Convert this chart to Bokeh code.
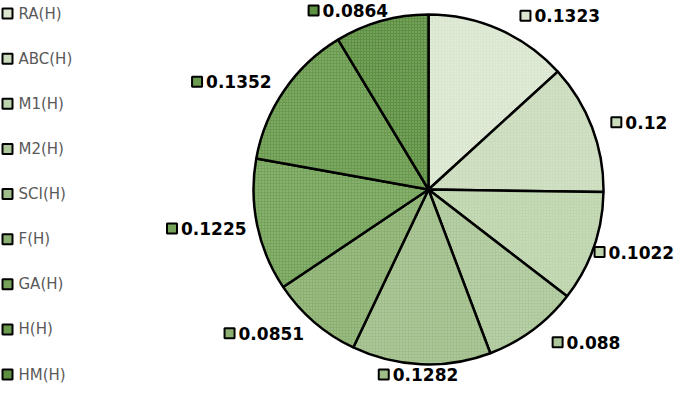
import numpy as np
from bokeh.plotting import figure
from bokeh.models import Range1d, ColumnDataSource
from bokeh.core.properties import value
from bokeh.embed import file_html
from bokeh.resources import INLINE

categories = ["RA(H)", "ABC(H)", "M1(H)", "M2(H)", "SCI(H)", "F(H)", "GA(H)", "H(H)", "HM(H)"]
values = [0.1323, 0.12, 0.1022, 0.088, 0.1282, 0.0851, 0.1225, 0.1352, 0.0864]
labels = ["0.1323", "0.12", "0.1022", "0.088", "0.1282", "0.0851", "0.1225", "0.1352", "0.0864"]
colors = ["#dae6d0", "#cbdcbd", "#bdd4ad", "#acc799", "#9fbe89", "#8bb071", "#75a35a", "#6a9a4d", "#5e9042"]
# horizontal nudges (px) for data-label placement, as laid out in the original
label_dx = [41, 0, -7, 24, 0, -16, 0, -10, -19]

W, H = 683, 384
TOP = 400  # data y = TOP - picture y
p = figure(width=W, height=H, output_backend="svg", toolbar_location=None,
           x_range=Range1d(0, W), y_range=Range1d(TOP - H, TOP),
           min_border=0, outline_line_color=None, background_fill_color="white")
p.axis.visible = False
p.grid.visible = False

cx, cy, r = 428, TOP - 189, 175
vals = np.array(values)
frac = vals / vals.sum()
cum = np.concatenate([[0], np.cumsum(frac)])
start = np.pi / 2 - 2 * np.pi * cum[1:]
end = np.pi / 2 - 2 * np.pi * cum[:-1]
src = ColumnDataSource(dict(start=start, end=end, color=colors, cat=categories))
p.wedge(x=cx, y=cy, radius=r, start_angle="start", end_angle="end", source=src,
        fill_color="color", line_color="black", line_width=2.5,
        hatch_pattern=".", hatch_color="white", hatch_alpha=0.35, hatch_scale=3, hatch_weight=1)

# data labels
mid = 2 * np.pi * (cum[:-1] + cum[1:]) / 2
ex = cx + 226 * np.sin(mid) + np.array(label_dx)
ey = np.clip(cy + 190 * np.cos(mid), TOP - 374, TOP - 10)
fs = 17
tw = np.array([sum(0.38 if ch == "." else 0.696 for ch in s) * fs for s in labels])
total = 15 + tw
left = ex - total / 2
lsrc = ColumnDataSource(dict(sx=left + 5, tx=left + 14, y=ey, color=colors, text=labels))
p.scatter(x="sx", y="y", source=lsrc, marker="square", size=10, fill_color="color",
          line_color="black", line_width=2)
p.text(x="tx", y="y", text="text", source=lsrc, text_font=value("DejaVu Sans"),
       text_font_style="bold", text_font_size=f"{fs}px", text_baseline="middle",
       text_align="left", text_color="black")

# legend
ly = TOP - np.linspace(13, 374, len(categories))
n = len(categories)
gsrc = ColumnDataSource(dict(x=np.full(n, 7.0), tx=np.full(n, 18.0),
                             y=ly, color=colors, text=categories))
p.scatter(x="x", y="y", source=gsrc, marker="square", size=10, fill_color="color",
          line_color="black", line_width=2)
p.text(x="tx", y="y", text="text", source=gsrc, text_font=value("DejaVu Sans"),
       text_font_size="15px", text_baseline="middle", text_align="left", text_color="#595959")

open("out.html", "w").write(file_html(p, INLINE))
